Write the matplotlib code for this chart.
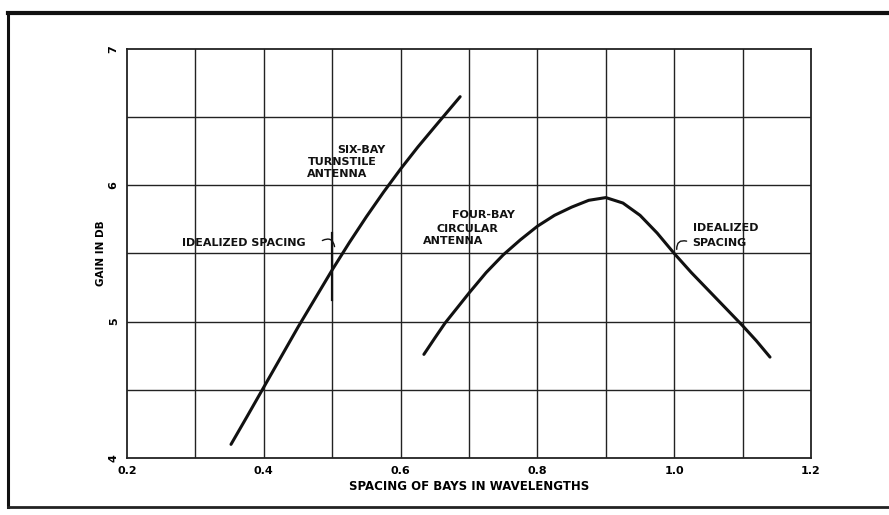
import matplotlib.pyplot as plt
from matplotlib.lines import Line2D

# data
six_x = [0.352, 0.375, 0.40, 0.425, 0.45, 0.475, 0.50, 0.525, 0.55, 0.575, 0.60, 0.625, 0.65, 0.687]
six_y = [4.10, 4.30, 4.52, 4.74, 4.96, 5.17, 5.38, 5.58, 5.77, 5.95, 6.12, 6.28, 6.43, 6.65]

four_x = [0.634, 0.65, 0.665, 0.70, 0.725, 0.75, 0.775, 0.80, 0.825, 0.85, 0.875, 0.90,
          0.925, 0.95, 0.975, 1.00, 1.025, 1.05, 1.075, 1.10, 1.12, 1.14]
four_y = [4.76, 4.88, 4.99, 5.21, 5.36, 5.49, 5.60, 5.70, 5.78, 5.84, 5.89, 5.91,
          5.87, 5.78, 5.65, 5.50, 5.36, 5.23, 5.10, 4.97, 4.86, 4.74]

x_ticks = [0.2, 0.4, 0.6, 0.8, 1.0, 1.2]
x_labels = ["0.2", "0.4", "0.6", "0.8", "1.0", "1.2"]
y_ticks = [4, 5, 6, 7]
y_labels = ["4", "5", "6", "7"]

plt.rcParams['font.family'] = ['DejaVu Sans']
fig = plt.figure(figsize=(8.89, 5.15), dpi=100)
ax = fig.add_axes([0.1429, 0.1107, 0.7694, 0.7942])

ax.set_xlim(0.2, 1.2)
ax.set_ylim(4, 7)

# grid every 0.1 / 0.5
for gx in [0.3, 0.4, 0.5, 0.6, 0.7, 0.8, 0.9, 1.0, 1.1]:
    ax.axvline(gx, color='#222222', lw=1.0, zorder=1)
for gy in [4.5, 5.0, 5.5, 6.0, 6.5]:
    ax.axhline(gy, color='#222222', lw=1.0, zorder=1)

ax.plot(six_x, six_y, color='#111111', lw=2.2, solid_capstyle='round',
        solid_joinstyle='round', zorder=3)
ax.plot(four_x, four_y, color='#111111', lw=2.2, solid_capstyle='round',
        solid_joinstyle='round', zorder=3)

for s in ax.spines.values():
    s.set_linewidth(1.3)
    s.set_color('#222222')

ax.set_xticks(x_ticks)
ax.set_xticklabels(x_labels, fontsize=8, fontweight='bold')
ax.set_yticks(y_ticks)
ax.set_yticklabels(y_labels, fontsize=8, fontweight='bold', rotation=90, va='center')
ax.tick_params(length=0, pad=6)

ax.set_xlabel("SPACING OF BAYS IN WAVELENGTHS", fontsize=8.5, fontweight='bold', labelpad=3)
ax.set_ylabel("GAIN IN DB", fontsize=7.5, fontweight='bold', labelpad=2)

tk = dict(fontsize=8, fontweight='bold', color='#111111', va='center', ha='left', zorder=4)

# six-bay labels
ax.text(0.508, 6.26, "SIX-BAY", **tk)
ax.text(0.465, 6.17, "TURNSTILE", **tk)
ax.text(0.463, 6.08, "ANTENNA", **tk)
ax.text(0.280, 5.58, "IDEALIZED SPACING", **tk)
ax.annotate("", xy=(0.504, 5.53), xytext=(0.482, 5.585),
            arrowprops=dict(arrowstyle='-', lw=1.0, color='#111111',
                            connectionstyle='arc3,rad=-0.8'))
ax.plot([0.5, 0.5], [5.16, 5.65], color='#111111', lw=1.6, zorder=2)

# four-bay labels
ax.text(0.675, 5.78, "FOUR-BAY", **tk)
ax.text(0.652, 5.68, "CIRCULAR", **tk)
ax.text(0.633, 5.59, "ANTENNA", **tk)
ax.text(1.027, 5.69, "IDEALIZED", **tk)
ax.text(1.027, 5.58, "SPACING", **tk)
ax.annotate("", xy=(1.004, 5.51), xytext=(1.022, 5.585),
            arrowprops=dict(arrowstyle='-', lw=1.0, color='#111111',
                            connectionstyle='arc3,rad=0.8'))

# outer frame of the printed figure
fig.add_artist(Line2D([0.009, 1.0], [0.975, 0.975], color='#111111', lw=3.0))
fig.add_artist(Line2D([0.009, 0.009], [0.0155, 0.975], color='#111111', lw=2.2))
fig.add_artist(Line2D([0.009, 1.0], [0.0155, 0.0155], color='#222222', lw=2.0))

fig.savefig("out.png", dpi=100)
